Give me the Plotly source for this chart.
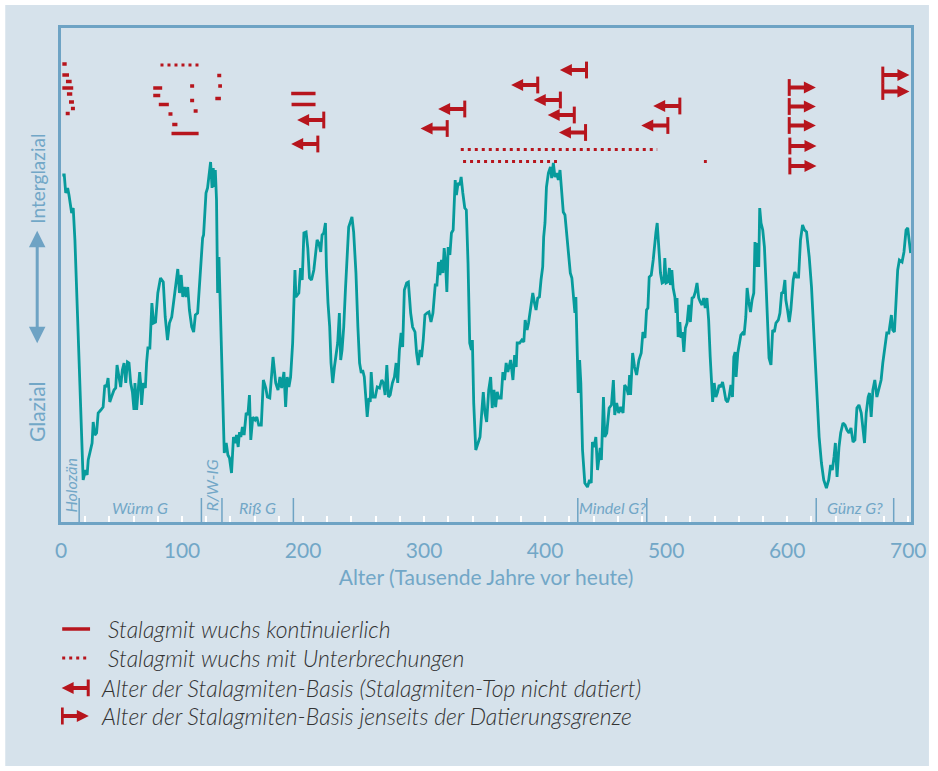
import plotly.graph_objects as go

# ---------------- data ----------------
# relative temperature index (0 = glacial bottom of frame, ~99 = top of frame)
AGE = [1.1, 2.7, 3.9, 5.5, 6.6, 8.8, 10.1, 11.5, 13.7, 16.4, 18.3, 20.3, 21.6, 22.5, 24.7, 25.7, 26.6, 28.0, 29.4, 30.7,
       32.9, 34.8, 36.2, 37.6, 38.9, 40.3, 41.7, 43.8, 45.2, 46.3, 47.9, 49.3, 50.7, 52.1, 53.5, 54.9, 56.2, 57.6, 59.0, 60.3,
       61.1, 62.5, 63.9, 65.0, 65.8, 66.6, 68.0, 69.7, 70.7, 71.8, 73.4, 75.1, 76.5, 78.1, 80.0, 82.2, 84.5, 86.1, 88.0, 89.6,
       91.5, 93.2, 94.8, 96.5, 97.9, 99.3, 100.6, 102.0, 103.4, 104.7, 106.1, 108.0, 109.6, 111.0, 112.9, 114.9, 117.0, 117.8,
       119.8, 121.1, 122.8, 123.6, 124.8, 125.8, 126.6, 127.5, 128.5, 129.4, 130.5, 131.3, 132.2, 133.5, 134.9, 136.5, 137.9,
       139.2, 140.9, 142.5, 143.9, 145.0, 146.4, 147.5, 148.6, 149.9, 151.3, 153.0, 154.4, 155.7, 156.8, 158.5, 160.4, 161.8,
       163.4, 165.5, 167.2, 169.2, 170.5, 172.5, 175.2, 177.4, 179.3, 180.9, 182.3, 184.2, 185.6, 186.9, 188.3, 189.7, 191.4,
       193.3, 194.1, 196.5, 197.9, 199.3, 200.7, 202.5, 203.9, 205.3, 207.0, 208.9, 211.6, 213.0, 214.6, 215.7, 217.1, 218.5,
       219.3, 220.6, 222.0, 223.1, 224.5, 225.9, 227.2, 228.6, 230.0, 231.1, 232.2, 233.6, 235.0, 236.3, 237.7, 239.1, 240.4,
       241.8, 243.7, 245.3, 246.7, 248.1, 249.2, 250.6, 251.9, 253.0, 254.4, 255.5, 256.3, 257.7, 259.6, 261.3, 263.2, 265.0,
       266.4, 267.8, 269.2, 270.6, 272.0, 273.8, 275.5, 276.9, 278.2, 279.6, 281.0, 282.3, 283.7, 285.6, 287.0, 288.9, 290.5,
       292.5, 293.8, 295.2, 296.6, 297.9, 299.3, 300.7, 302.6, 304.0, 305.7, 307.3, 309.2, 310.6, 311.9, 313.1, 314.4, 315.5,
       316.6, 317.7, 318.8, 319.9, 321.3, 322.6, 324.0, 324.8, 325.7, 326.7, 328.1, 329.5, 330.6, 332.0, 333.6, 334.9, 336.3,
       337.7, 339.1, 339.9, 341.0, 342.7, 344.6, 346.2, 347.6, 348.9, 350.3, 351.7, 353.4, 355.0, 356.3, 357.7, 359.1, 360.4,
       361.8, 363.7, 365.1, 366.5, 367.8, 369.2, 371.5, 373.4, 374.8, 376.1, 376.9, 378.9, 380.8, 382.4, 383.5, 385.1, 386.3,
       387.6, 388.4, 389.8, 391.2, 392.5, 393.9, 395.3, 396.6, 398.0, 398.8, 399.9, 401.1, 402.7, 404.4, 405.4, 406.8, 408.1,
       409.5, 410.9, 412.3, 413.7, 415.0, 416.4, 418.0, 419.2, 420.8, 422.1, 423.5, 424.6, 425.4, 426.2, 427.4, 428.5, 429.5,
       430.9, 432.8, 435.0, 436.7, 438.1, 439.1, 440.5, 441.9, 443.3, 445.5, 446.5, 448.2, 449.3, 450.9, 452.9, 454.8, 456.4,
       457.5, 459.1, 460.8, 462.4, 464.4, 465.7, 467.4, 468.8, 469.8, 470.6, 472.3, 473.9, 475.6, 477.5, 479.4, 480.8, 482.5,
       483.8, 484.9, 486.0, 487.7, 489.3, 490.4, 491.5, 492.6, 494.0, 495.3, 496.7, 498.1, 498.9, 500.0, 501.4, 502.7, 503.5,
       504.7, 505.8, 507.2, 508.2, 509.0, 509.9, 511.3, 512.3, 513.4, 514.6, 515.9, 517.3, 518.7, 520.0, 521.4, 522.8, 524.1,
       525.5, 526.9, 528.2, 529.6, 531.0, 532.3, 533.7, 535.1, 536.4, 537.6, 538.4, 539.7, 541.1, 542.5, 543.8, 545.2, 546.6,
       547.9, 549.3, 550.7, 552.0, 553.5, 554.8, 555.9, 557.0, 557.8, 559.2, 560.6, 561.7, 563.1, 564.4, 565.8, 566.9, 568.3,
       569.7, 571.0, 572.4, 573.4, 574.3, 575.4, 576.5, 577.3, 578.4, 579.8, 581.2, 582.5, 583.9, 585.0, 586.6, 588.0, 589.4,
       590.7, 592.7, 594.0, 595.4, 596.8, 598.1, 598.9, 600.3, 601.7, 603.0, 605.0, 606.3, 607.7, 609.4, 611.0, 612.7, 614.3,
       616.0, 618.2, 620.1, 622.0, 624.2, 626.4, 628.3, 630.2, 632.4, 634.3, 635.9, 637.3, 638.7, 639.8, 641.2, 642.8, 644.2,
       646.1, 647.8, 649.4, 651.1, 652.7, 654.4, 656.0, 657.6, 659.3, 661.2, 662.6, 663.9, 665.3, 666.9, 668.0, 669.4, 670.8,
       672.4, 674.1, 675.7, 677.6, 679.0, 680.7, 682.3, 684.0, 685.3, 686.1, 687.2, 688.6, 690.0, 691.3, 692.7, 694.9, 696.5,
       698.2, 699.6, 700.9, 702.0]
TEMP = [69.4, 69.4, 65.8, 66.8, 65.4, 61.8, 62.8, 56.4, 41.0, 21.0, 8.4, 10.4, 9.4, 12.4, 14.4, 15.8, 20.0, 17.4, 17.8, 21.8,
        22.4, 23.0, 27.4, 27.0, 28.8, 24.0, 25.0, 26.4, 26.8, 31.4, 29.0, 27.0, 30.4, 31.8, 27.8, 32.0, 31.8, 27.8, 26.0, 22.4,
        27.8, 22.4, 26.8, 30.0, 27.8, 23.4, 27.8, 26.8, 31.8, 34.8, 34.8, 43.8, 39.8, 40.0, 45.8, 48.8, 48.0, 41.0, 36.4, 39.8,
        41.0, 44.4, 48.4, 50.6, 45.8, 49.4, 45.0, 47.0, 45.0, 47.0, 42.4, 39.0, 38.0, 41.4, 41.8, 49.0, 56.8, 57.4,
        65.8, 66.8, 69.8, 72.0, 66.8, 70.8, 67.0, 70.4, 64.4, 45.8, 53.0, 45.8, 34.4, 24.4, 13.8, 15.8, 13.4,
        12.8, 9.8, 17.0, 15.8, 17.4, 15.0, 18.0, 17.0, 19.0, 17.4, 21.8, 21.4, 25.4, 16.4, 21.0, 20.4, 21.0,
        19.4, 19.4, 28.4, 26.8, 25.0, 24.8, 33.0, 27.8, 26.4, 29.0, 26.8, 30.0, 23.0, 29.0, 27.0, 29.0, 35.8,
        50.4, 45.0, 45.8, 50.8, 48.4, 57.8, 58.0, 54.8, 48.8, 48.4, 50.4, 56.4, 55.8, 54.0, 57.4, 57.8, 59.8,
        51.0, 43.8, 39.0, 31.8, 27.8, 31.0, 33.0, 35.8, 41.8, 32.4, 34.4, 39.0, 46.4, 52.4, 59.0, 60.0, 61.0,
        58.0, 49.8, 39.0, 31.8, 29.8, 30.4, 29.0, 23.8, 21.0, 24.8, 24.0, 30.0, 25.0, 25.0, 27.0, 26.8, 28.4,
        27.8, 25.4, 31.4, 25.0, 25.4, 27.8, 29.0, 31.8, 27.8, 34.4, 37.8, 35.0, 46.4, 47.8, 48.0, 41.8, 39.0,
        38.0, 33.8, 31.4, 34.4, 33.0, 36.4, 41.4, 41.8, 42.0, 40.0, 41.8, 47.4, 47.4, 52.0, 49.4, 52.4, 49.8,
        54.8, 51.8, 46.0, 55.0, 53.4, 57.8, 58.4, 65.8, 68.4, 65.4, 67.8, 67.4, 69.0, 65.8, 62.8, 62.4, 51.8,
        35.8, 34.4, 36.4, 23.8, 14.4, 15.8, 17.0, 21.8, 26.0, 21.8, 20.0, 26.4, 29.0, 22.8, 26.4, 23.0, 26.0,
        24.8, 24.8, 30.0, 28.4, 31.8, 30.0, 32.4, 28.4, 33.4, 31.0, 35.8, 35.8, 36.4, 36.0, 40.4, 38.4, 39.8,
        42.0, 43.0, 45.8, 43.8, 42.4, 44.8, 45.0, 48.4, 51.0, 57.0, 59.8, 67.0, 69.8, 71.0, 68.8, 71.8, 69.0,
        69.8, 68.4, 70.4, 65.4, 62.0, 61.4, 57.0, 54.4, 49.8, 48.8, 45.0, 41.8, 45.0, 37.0, 25.8, 32.4, 27.8,
        14.4, 7.8, 7.0, 8.4, 7.8, 16.0, 15.0, 17.0, 10.4, 14.8, 12.4, 25.0, 17.0, 17.8, 22.8, 23.4, 28.4,
        21.4, 23.8, 21.8, 23.0, 21.8, 27.4, 26.8, 25.4, 29.4, 25.4, 33.8, 31.0, 29.4, 32.4, 33.8, 38.0, 36.8,
        42.4, 42.8, 49.0, 49.4, 52.4, 55.8, 57.8, 59.8, 55.0, 49.8, 47.8, 48.0, 52.8, 47.8, 48.0, 50.8, 47.4,
        50.4, 46.8, 45.0, 41.8, 44.8, 37.0, 40.0, 36.8, 38.0, 34.0, 38.8, 39.8, 43.4, 40.0, 44.8, 45.0, 46.0,
        47.8, 44.8, 44.0, 43.4, 44.8, 42.8, 44.8, 40.4, 33.0, 27.8, 24.0, 27.8, 25.0, 26.0, 27.4, 27.0, 28.0,
        26.4, 24.4, 24.0, 25.0, 27.4, 25.0, 33.0, 34.0, 29.0, 33.8, 35.8, 37.4, 37.8, 37.4, 41.0, 46.8, 44.0,
        42.0, 44.4, 45.8, 56.0, 51.0, 55.8, 51.0, 62.8, 59.8, 58.4, 55.0, 47.8, 39.0, 32.8, 31.4, 38.4, 38.0,
        39.8, 40.4, 41.8, 45.8, 46.0, 48.4, 44.4, 42.4, 40.0, 42.4, 48.4, 50.0, 49.0, 49.0, 56.4, 59.4, 58.4,
        58.0, 53.0, 47.0, 38.4, 27.8, 17.0, 11.8, 8.4, 6.8, 8.4, 11.4, 10.4, 13.0, 15.8, 9.0, 15.0, 17.8,
        19.8, 19.4, 18.4, 17.8, 18.8, 16.0, 16.4, 22.8, 23.4, 21.8, 18.4, 15.8, 21.8, 25.0, 25.8, 21.0, 26.4,
        28.4, 25.0, 26.4, 28.4, 31.8, 35.0, 37.8, 37.8, 40.0, 41.4, 38.4, 38.0, 44.4, 50.4, 52.4, 52.0, 54.0,
        58.4, 58.8, 56.0, 53.8]

# stalagmite growth, continuous: start age, end age, level
SOLID_START = [1.1, 1.1, 4.1, 1.1, 4.9, 6.6, 8.2, 3.9, 76.2, 76.2, 80.8, 88.8, 91.9, 91.3, 106.7, 106.7, 109.6,
               129.1, 129.9, 127.5, 190.2, 190.5]
SOLID_END = [4.7, 6.6, 8.8, 10.1, 9.3, 10.7, 11.5, 7.2, 83.6, 82.0, 89.1, 92.1, 96.2, 113.7, 110.0, 110.0, 112.9,
             132.4, 133.0, 132.1, 210.3, 210.3]
SOLID_LEVEL = [91.6, 89.4, 88.1, 86.8, 85.6, 84.0, 82.7, 81.7, 86.8, 85.3, 83.5, 81.6, 79.5, 77.7, 87.2, 84.3, 82.2,
               89.3, 87.2, 84.7, 85.7, 83.5]

# stalagmite growth with interruptions
DOT_START = [82.2, 330.3, 332.2, 531.2]
DOT_END = [115.7, 492.6, 409.8, 533.6]
DOT_LEVEL = [91.4, 74.5, 72.1, 72.1]

# base ages, top not dated (arrow points to younger ages)
LEFT_BASE = [217.1, 212.2, 333.6, 319.1, 434.2, 393.9, 412.6, 424.1, 433.4, 511.3, 501.4]
LEFT_LEVEL = [80.4, 75.6, 82.6, 78.7, 90.4, 87.4, 84.4, 81.4, 77.9, 83.2, 79.3]

# base ages beyond dating limit (arrow points to older ages)
RIGHT_BASE = [601.7, 601.7, 601.7, 602.2, 602.2, 679.0, 679.0]
RIGHT_LEVEL = [86.9, 83.1, 79.3, 75.2, 71.2, 89.4, 86.1]

# climate periods
PERIOD_NAMES = ["Holozän", "Würm G", "R/W-IG", "Riß G", "Mindel G?", "Günz G?"]
PERIOD_START = [0, 15, 116, 133, 427, 624]
PERIOD_END = [15, 116, 133, 192, 484, 688]
PERIOD_VERTICAL = [True, False, True, False, False, False]
BOUNDARIES = [15, 116, 133, 192, 427, 484, 624, 688]

X_TICKS = [0, 100, 200, 300, 400, 500, 600, 700]

LEGEND_TEXT = ["Stalagmit wuchs kontinuierlich",
               "Stalagmit wuchs mit Unterbrechungen",
               "Alter der Stalagmiten-Basis (Stalagmiten-Top nicht datiert)",
               "Alter der Stalagmiten-Basis jenseits der Datierungsgrenze"]

# ---------------- style ----------------
BG = "#d6e2eb"
AXIS_BLUE = "#6ea3c4"
TEXT_BLUE = "#72a7c7"
TEAL = "#079b9c"
RED = "#b7151d"
FONT = "Lato"
ARROW_LEN = 22.0      # arrow length in ka
HEAD_LEN = 9.0        # portion of the arrow covered by the head, ka
X_MAX = 702.3
Y_MAX = 98.8

fig = go.Figure()


def segs(starts, ends, levels):
    xs, ys = [], []
    for a, b, v in zip(starts, ends, levels):
        xs += [a, b, None]
        ys += [v, v, None]
    return xs, ys


def add_arrows(bases, levels, direction, xa="x", ya="y"):
    # direction -1: points left (younger), +1: points right (older)
    tips = [b + direction * ARROW_LEN for b in bases]
    sx, sy = [], []
    for b, t, v in zip(bases, tips, levels):
        sx += [b, t - direction * HEAD_LEN, None]
        sy += [v, v, None]
    fig.add_trace(go.Scatter(x=sx, y=sy, mode="lines", xaxis=xa, yaxis=ya,
                             line=dict(color=RED, width=4), hoverinfo="skip", showlegend=False))
    fig.add_trace(go.Scatter(x=tips, y=levels, mode="markers", xaxis=xa, yaxis=ya,
                             marker=dict(symbol="arrow-left" if direction < 0 else "arrow-right",
                                         size=12, color=RED, line=dict(width=0)),
                             hoverinfo="skip", showlegend=False))
    fig.add_trace(go.Scatter(x=bases, y=levels, mode="markers", xaxis=xa, yaxis=ya,
                             marker=dict(symbol="line-ns", size=12, color=RED,
                                         line=dict(color=RED, width=3)),
                             hoverinfo="skip", showlegend=False))


# period boundary ticks
bx, by = [], []
for b in BOUNDARIES:
    bx += [b, b, None]
    by += [0, 4.8, None]
fig.add_trace(go.Scatter(x=bx, y=by, mode="lines", line=dict(color=AXIS_BLUE, width=1.5),
                         hoverinfo="skip", showlegend=False))

# temperature curve
fig.add_trace(go.Scatter(x=AGE, y=TEMP, mode="lines", line=dict(color=TEAL, width=2.8),
                         showlegend=False))

# stalagmite growth periods
sx, sy = segs(SOLID_START, SOLID_END, SOLID_LEVEL)
fig.add_trace(go.Scatter(x=sx, y=sy, mode="lines", line=dict(color=RED, width=3.5),
                         hoverinfo="skip", showlegend=False))
dx, dy = segs(DOT_START, DOT_END, DOT_LEVEL)
fig.add_trace(go.Scatter(x=dx, y=dy, mode="lines", line=dict(color=RED, width=3, dash="3px,4px"),
                         hoverinfo="skip", showlegend=False))

add_arrows(LEFT_BASE, LEFT_LEVEL, -1)
add_arrows(RIGHT_BASE, RIGHT_LEVEL, +1)

# ---------------- legend (drawn on a hidden helper axis) ----------------
LEG_ROWS = [0.537, 0.385, 0.227, 0.079]
fig.add_trace(go.Scatter(x=[1, 24], y=[LEG_ROWS[0]] * 2, mode="lines", xaxis="x2", yaxis="y2",
                         line=dict(color=RED, width=3.5), hoverinfo="skip", showlegend=False))
fig.add_trace(go.Scatter(x=[1, 23], y=[LEG_ROWS[1]] * 2, mode="lines", xaxis="x2", yaxis="y2",
                         line=dict(color=RED, width=3, dash="3px,4px"), hoverinfo="skip", showlegend=False))
add_arrows([22.5], [LEG_ROWS[2]], -1, "x2", "y2")
add_arrows([1.0], [LEG_ROWS[3]], +1, "x2", "y2")

annotations = []
for i, (txt, row) in enumerate(zip(LEGEND_TEXT, LEG_ROWS)):
    annotations.append(dict(x=36.9 if i < 2 else 31.5, y=row, xref="x2", yref="y2", text=txt,
                            showarrow=False, xanchor="left", yanchor="middle",
                            font=dict(family=FONT, size=23, color="#333333", style="italic",
                                      weight=300)))

# period labels
for name, s, e, vert in zip(PERIOD_NAMES, PERIOD_START, PERIOD_END, PERIOD_VERTICAL):
    mid = (s + e) / 2
    annotations.append(dict(x=mid, y=7.3 if vert else 3.0, xref="x", yref="y", text=name,
                            showarrow=False, textangle=-90 if vert else 0,
                            xanchor="center", yanchor="middle",
                            font=dict(family=FONT, size=16, color=TEXT_BLUE, style="italic")))

# y-axis side labels
annotations.append(dict(x=-0.028, y=0.786, xref="paper", yref="paper", text="Interglazial",
                        showarrow=False, textangle=-90, xanchor="center", yanchor="middle",
                        font=dict(family=FONT, size=19, color=TEXT_BLUE)))
annotations.append(dict(x=-0.028, y=0.454, xref="paper", yref="paper", text="Glazial",
                        showarrow=False, textangle=-90, xanchor="center", yanchor="middle",
                        font=dict(family=FONT, size=21, color=TEXT_BLUE)))
annotations.append(dict(x=-0.028, y=0.7115, xref="paper", yref="paper", text="",
                        showarrow=True, ax=0, ay=114, arrowside="end+start",
                        arrowhead=2, startarrowhead=2, arrowsize=1.1, startarrowsize=1.1,
                        arrowwidth=3, arrowcolor=AXIS_BLUE))

# light-blue panel inside a thin white border
shapes = [dict(type="rect", xref="paper", yref="paper", x0=-0.0656, x1=1.0211, y0=-0.0498, y1=1.0327,
               fillcolor=BG, line=dict(width=0), layer="below")]

fig.update_layout(
    width=938, height=771,
    margin=dict(l=61, r=23, t=28, b=40),
    paper_bgcolor="white", plot_bgcolor="rgba(0,0,0,0)",
    showlegend=False,
    annotations=annotations,
    shapes=shapes,
    xaxis=dict(range=[0, X_MAX], domain=[0, 1], anchor="y",
               showline=True, linecolor=AXIS_BLUE, linewidth=3, mirror=True,
               showgrid=False, zeroline=False,
               tickvals=X_TICKS, ticks="inside", ticklen=6, tickwidth=1.5, tickcolor="white",
               minor=dict(dtick=20, ticks="inside", ticklen=6, tickwidth=1.5, tickcolor="white"),
               tickfont=dict(family=FONT, size=21, color=TEXT_BLUE),
               ticklabelstandoff=8,
               title=dict(text="Alter (Tausende Jahre vor heute)", standoff=10,
                          font=dict(family=FONT, size=21, color=TEXT_BLUE))),
    yaxis=dict(range=[0, Y_MAX], domain=[0.2973, 1], anchor="x",
               showline=True, linecolor=AXIS_BLUE, linewidth=3, mirror=True,
               showgrid=False, zeroline=False, showticklabels=False, ticks=""),
    xaxis2=dict(range=[0, X_MAX], domain=[0, 1], anchor="y2", visible=False),
    yaxis2=dict(range=[0, 1], domain=[0, 0.27], anchor="x2", visible=False),
)

fig.write_html("out.html", config={"displayModeBar": False},
               post_script="document.body.style.margin='0px';")
